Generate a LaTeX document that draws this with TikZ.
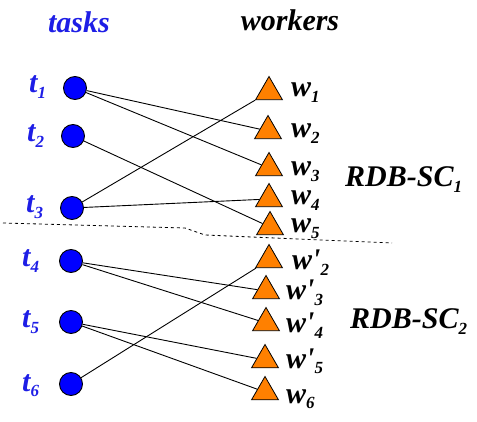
\documentclass[tikz,border=0pt]{standalone}
\usepackage{fontspec}
\setmainfont{Liberation Serif}
\usetikzlibrary{shapes.geometric}
\definecolor{taskblue}{RGB}{30,30,230}
\definecolor{circblue}{RGB}{0,0,255}
\definecolor{triorange}{RGB}{255,128,0}
\newcommand{\lsub}[1]{\raisebox{-0.17em}{\fontsize{17}{17}\selectfont #1}}
\begin{document}
\begin{tikzpicture}[x=1pt,y=-1pt,
  task/.style={circle, draw=black, fill=circblue, minimum size=23pt, inner sep=0pt, line width=0.9pt},
  worker/.style={regular polygon, regular polygon sides=3, draw=black, fill=triorange, minimum size=31pt, inner sep=0pt, line width=0.8pt},
  lbl/.style={font=\fontsize{30}{30}\selectfont\bfseries\itshape, inner sep=0pt, anchor=base west},
  tlbl/.style={lbl, text=taskblue},
  edge/.style={line width=0.9pt, draw=black},
  sep/.style={dashed, line width=0.8pt, draw=black}]
\useasboundingbox (0,0) rectangle (477,422);
% headers
\node[tlbl, anchor=base] (hT) at (79,33) {tasks};
\node[lbl, anchor=base] (hW) at (290,31) {workers};
% tasks
\node[task] (t1) at (75,88) {};
\node[task] (t2) at (73,136) {};
\node[task] (t3) at (72,208) {};
\node[task] (t4) at (71,261) {};
\node[task] (t5) at (71,322) {};
\node[task] (t6) at (71,384) {};
\node[tlbl] (lt1) at (29,93) {t\lsub{1}};
\node[tlbl] (lt2) at (27,142) {t\lsub{2}};
\node[tlbl] (lt3) at (26,213) {t\lsub{3}};
\node[tlbl] (lt4) at (22,267) {t\lsub{4}};
\node[tlbl] (lt5) at (22,328) {t\lsub{5}};
\node[tlbl] (lt6) at (22,391) {t\lsub{6}};
% workers
\node[worker] (w1) at (269,92) {};
\node[worker] (w2) at (268,131) {};
\node[worker] (w3) at (269,168) {};
\node[worker] (w4) at (269,199) {};
\node[worker] (w5) at (270,227) {};
\node[worker] (wp2) at (269,260) {};
\node[worker] (wp3) at (266,291) {};
\node[worker] (wp4) at (266,323) {};
\node[worker] (wp5) at (265,360) {};
\node[worker] (w6) at (265,392) {};
\node[lbl] (lw1) at (291,97) {w\lsub{1}};
\node[lbl] (lw2) at (291,138) {w\lsub{2}};
\node[lbl] (lw3) at (291,176) {w\lsub{3}};
\node[lbl] (lw4) at (291,205) {w\lsub{4}};
\node[lbl] (lw5) at (291,233) {w\lsub{5}};
\node[lbl] (lwp2) at (292,270) {w\textquotesingle\lsub{2}};
\node[lbl] (lwp3) at (286,300) {w\textquotesingle\lsub{3}};
\node[lbl] (lwp4) at (286,333) {w\textquotesingle\lsub{4}};
\node[lbl] (lwp5) at (286,368) {w\textquotesingle\lsub{5}};
\node[lbl] (lw6) at (286,403) {w\lsub{6}};
% group labels
\node[lbl] (sc1) at (345,187) {RDB-SC\lsub{1}};
\node[lbl] (sc2) at (350,329) {RDB-SC\lsub{2}};
% edges
\draw[edge] (t1) -- (w2);
\draw[edge] (t1) -- (w3);
\draw[edge] (t2) -- (w5);
\draw[edge] (t3) -- (w1);
\draw[edge] (t3) -- (w4);
\draw[edge] (t4) -- (wp3);
\draw[edge] (t4) -- (wp4);
\draw[edge] (t5) -- (wp5);
\draw[edge] (t5) -- (w6);
\draw[edge] (t6) -- (wp2);
% separator
\coordinate (s0) at (3,223);
\coordinate (s1) at (185,228);
\coordinate (s2) at (205,235);
\coordinate (s3) at (392,243);
\draw[sep] (s0) -- (s1) -- (s2) -- (s3);
\end{tikzpicture}
\end{document}
